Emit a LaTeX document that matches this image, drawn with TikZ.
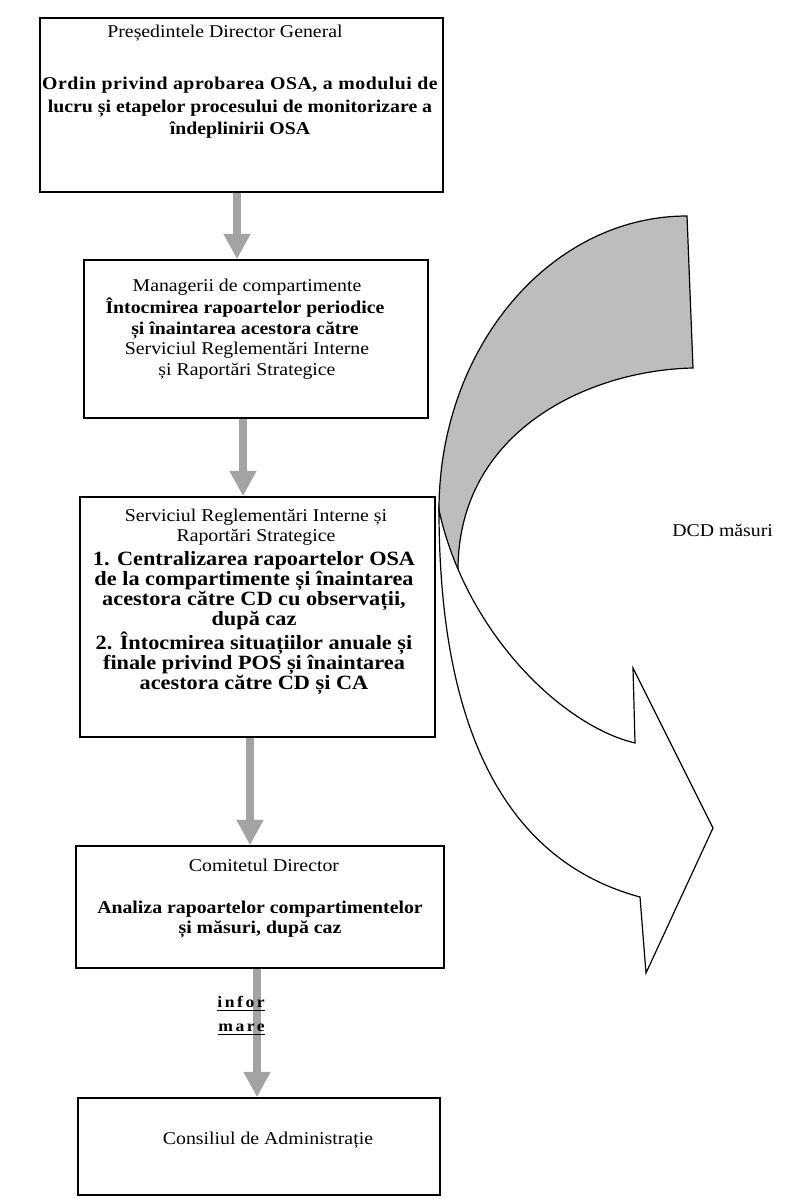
\documentclass[tikz,border=0pt]{standalone}
\usepackage{fontspec}
\setmainfont[FakeStretch=1.1]{Liberation Serif}
\usetikzlibrary{arrows.meta,fit}

\tikzset{
  box/.style={draw=black, line width=1.2pt, inner sep=0pt},
  plain/.style={font=\fontsize{13.5}{15}\selectfont, align=center, inner sep=0pt},
  strong/.style={font=\fontsize{13.5}{15}\selectfont\bfseries, align=center, inner sep=0pt},
  flow/.style={draw=black!36, line width=6pt, -{Triangle[width=19pt,length=19pt]}},
  bandback/.style={draw=black, line width=0.9pt, fill=black!26},
  bandfront/.style={draw=black, line width=0.9pt, fill=white, line join=miter},
  tag/.style={font=\fontsize{12}{14}\selectfont\bfseries\addfontfeature{LetterSpace=16},
              inner xsep=0pt, inner ysep=2.2pt, anchor=base east},
}

\begin{document}
\begin{tikzpicture}[x=0.75pt,y=-0.75pt]
\useasboundingbox (0,0) rectangle (794,1199);
\fill[white] (0,0) rectangle (794,1199);

% process boxes
\node[box, fit={(40,18) (443,192)}] (b1) {};
\node[box, fit={(84,260) (428,418)}] (b2) {};
\node[box, fit={(80,497) (435,737)}] (b3) {};
\node[box, fit={(76,846) (444,968)}] (b4) {};
\node[box, fit={(78,1098) (440,1195)}] (b5) {};

% box texts
\node[plain] (t1a) at (225,33) {Președintele Director General};
\node[strong, font=\fontsize{13.5}{17}\selectfont\bfseries] (t1b) at (240,108)
  {{\addfontfeature{LetterSpace=3}Ordin privind aprobarea OSA, a modului de}\\ lucru și etapelor procesului de monitorizare a\\ îndeplinirii OSA};

\node[plain] (t2a) at (247,287) {Managerii de compartimente};
\node[strong, font=\fontsize{13.5}{15.75}\selectfont\bfseries] (t2b) at (245,318.5)
  {Întocmirea rapoartelor periodice\\ și înaintarea acestora către};
\node[plain, font=\fontsize{13.5}{15.75}\selectfont] (t2c) at (247,360.5)
  {Serviciul Reglementări Interne\\ și Raportări Strategice};

\node[plain] (t3a) at (256,527.5) {Serviciul Reglementări Interne și\\ Raportări Strategice};
\node[strong, font=\fontsize{15.2}{15}\selectfont\bfseries] (t3b) at (254,623)
  {1. Centralizarea rapoartelor OSA\\ de la compartimente și înaintarea\\ acestora către CD cu observații,\\ după caz\\ 2. Întocmirea situațiilor anuale și\\ finale privind POS și înaintarea\\ acestora către CD și CA};

\node[plain] (t4a) at (264,865) {Comitetul Director};
\node[strong] (t4b) at (260,920) {Analiza rapoartelor compartimentelor\\ și măsuri, după caz};

\node[plain] (t5a) at (268,1140) {Consiliul de Administrație};

% links between boxes
\draw[flow] (b1.south -| 237,0) -- (b2.north -| 237,0);
\draw[flow] (b2.south -| 243,0) -- (b3.north -| 243,0);
\draw[flow] (b3.south -| 250,0) -- (b4.north -| 250,0);
\draw[flow] (b4.south -| 257,0) -- (b5.north -| 257,0);

% label set over the last link
\node[tag] (inf1) at (265,1007) {infor};
\node[tag] (inf2) at (265,1031) {mare};
\draw[line width=1.3pt] (inf1.south west) -- (inf1.south east);
\draw[line width=1.3pt] (inf2.south west) -- (inf2.south east);

% curved block arrow: shaded back band
\filldraw[bandback]
  (687,216) .. controls (550,216) and (439,348) .. (439,510)
  -- (443,548) -- (458,570)
  .. controls (458,430) and (590,370) .. (693,368)
  -- cycle;

% curved block arrow: front band with head
\filldraw[bandfront]
  (439,510) .. controls (439,780) and (540,870) .. (640,897)
  -- (646,973) -- (713,828) -- (633,668) -- (635,743)
  .. controls (560,725) and (465,630) .. (439,510)
  -- cycle;

\node[plain, anchor=west] (dcd) at (672,530) {DCD măsuri};
\end{tikzpicture}
\end{document}
